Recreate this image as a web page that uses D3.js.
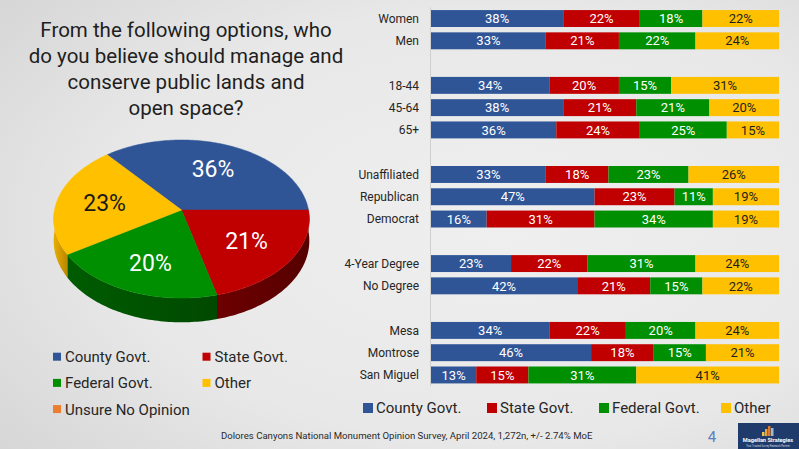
<!DOCTYPE html>
<html>
<head>
<meta charset="utf-8">
<script src="https://cdn.jsdelivr.net/npm/d3@7"></script>
<style>
  html, body { margin: 0; padding: 0; background: #e6e6e6; }
  svg { display: block; font-family: Roboto, "Noto Sans", sans-serif; }
</style>
</head>
<body>
<div id="chart"></div>
<script>
// ---------- DATA ----------
const titleLines = ["From the following options, who", "do you believe should manage and", "conserve public lands and", "open space?"];

const seriesNames = ["County Govt.", "State Govt.", "Federal Govt.", "Other"];
const legendNamesPie = ["County Govt.", "State Govt.", "Federal Govt.", "Other", "Unsure No Opinion"];

// Overall (pie)
const pieValues = [36, 21, 20, 23, 0];

// Rows (entries beginning with "_" are blank spacer rows)
const rows = ["Women", "Men", "_g1", "18-44", "45-64", "65+", "_g2", "Unaffiliated", "Republican", "Democrat", "_g3", "4-Year Degree", "No Degree", "_g4", "Mesa", "Montrose", "San Miguel"];
const categories = ["Women", "Men", "18-44", "45-64", "65+", "Unaffiliated", "Republican", "Democrat", "4-Year Degree", "No Degree", "Mesa", "Montrose", "San Miguel"];
const countyVals  = [38, 33, 34, 38, 36, 33, 47, 16, 23, 42, 34, 46, 13];
const stateVals   = [22, 21, 20, 21, 24, 18, 23, 31, 22, 21, 22, 18, 15];
const federalVals = [18, 22, 15, 21, 25, 23, 11, 34, 31, 15, 20, 15, 31];
const otherVals   = [22, 24, 31, 20, 15, 26, 19, 19, 24, 22, 24, 21, 41];

const footnote = "Dolores Canyons National Monument Opinion Survey, April 2024, 1,272n, +/- 2.74% MoE";
const pageNumber = "4";

// ---------- STYLE ----------
const colors = ["#2F5597", "#C00000", "#008F00", "#FFC000", "#ED7D31"];
const sideColors = ["#1d3560", "#620000", "#005300", "#d09a00", "#a0501c"];
const W = 799, H = 449;

const svg = d3.select("#chart").append("svg").attr("width", W).attr("height", H);
const defs = svg.append("defs");

const bg = defs.append("radialGradient").attr("id", "bg").attr("cx", "62%").attr("cy", "50%").attr("r", "80%");
bg.append("stop").attr("offset", "0%").attr("stop-color", "#efefef");
bg.append("stop").attr("offset", "60%").attr("stop-color", "#e8e8e8");
bg.append("stop").attr("offset", "100%").attr("stop-color", "#d6d6d6");
svg.append("rect").attr("width", W).attr("height", H).attr("fill", "url(#bg)");

// ---------- TITLE ----------
const title = svg.append("text").attr("text-anchor", "middle").attr("font-size", 20.5).attr("fill", "#1e1e1e");
titleLines.forEach((t, i) => {
  title.append("tspan").attr("x", 186).attr("y", 37 + i * 26.1).text(t);
});

// ---------- 3D PIE ----------
const cx = 181.5, cy = 210, R = 127, S = 78, k = 0.114, depth = 21.5;
function proj(a, f, dz) {
  const u = f * Math.sin(a), v = -f * Math.cos(a);
  const d = 1 - k * v;
  return [cx + R * u / d, cy + S * v / d + (dz || 0) / d];
}
const startA = Math.PI / 2 - 2 * Math.PI * pieValues[0] / d3.sum(pieValues);
const arcs = d3.pie().sort(null).startAngle(startA).endAngle(startA + 2 * Math.PI)(pieValues);
const line = d3.line();

function sampleArc(a0, a1, f, dz) {
  const n = Math.max(2, Math.ceil(Math.abs(a1 - a0) / 0.02));
  return d3.range(n + 1).map(i => proj(a0 + (a1 - a0) * i / n, f, dz));
}

const pieG = svg.append("g");
// walls (front half only)
arcs.forEach((a, i) => {
  if (a.endAngle - a.startAngle <= 0) return;
  [0, 2 * Math.PI, -2 * Math.PI].forEach(shift => {
    const lo = Math.max(a.startAngle, Math.PI / 2 + shift);
    const hi = Math.min(a.endAngle, 3 * Math.PI / 2 + shift);
    if (hi - lo <= 0.0001) return;
    const gid = "side" + i + "_" + (shift > 0 ? "p" : shift < 0 ? "m" : "z");
    const p0 = proj(lo, 1), p1 = proj(hi, 1);
    const g = defs.append("linearGradient").attr("id", gid).attr("gradientUnits", "userSpaceOnUse")
      .attr("x1", Math.min(p0[0], p1[0])).attr("x2", Math.max(p0[0], p1[0])).attr("y1", 0).attr("y2", 0);
    const base = d3.color(sideColors[i]);
    g.append("stop").attr("offset", "0%").attr("stop-color", base.brighter(0.3));
    g.append("stop").attr("offset", "100%").attr("stop-color", base.darker(0.35));
    const pts = sampleArc(lo, hi, 1, 0).concat(sampleArc(hi, lo, 1, depth));
    pieG.append("path").attr("d", line(pts) + "Z").attr("fill", "url(#" + gid + ")");
  });
});
// top faces
arcs.forEach((a, i) => {
  if (a.endAngle - a.startAngle <= 0) return;
  const pts = [proj(0, 0)].concat(sampleArc(a.startAngle, a.endAngle, 1, 0));
  pieG.append("path").attr("d", line(pts) + "Z").attr("fill", colors[i])
    .attr("stroke", colors[i]).attr("stroke-width", 0.5);
});
// labels
arcs.forEach((a, i) => {
  if (a.value <= 0) return;
  const mid = (a.startAngle + a.endAngle) / 2;
  const p = proj(mid, 0.62);
  pieG.append("text").attr("x", p[0]).attr("y", p[1] + (i === 2 ? 5 : 0)).attr("dy", "0.36em")
    .attr("text-anchor", "middle").attr("font-size", 23)
    .attr("fill", i === 3 ? "#1a1a1a" : "#ffffff").text(a.value + "%");
});

// ---------- PIE LEGEND ----------
const pl = svg.append("g");
legendNamesPie.forEach((name, i) => {
  const col = i % 2, row = Math.floor(i / 2);
  const x = 53 + col * 149.5, y = 356.7 + row * 26.2;
  pl.append("rect").attr("x", x).attr("y", y - 4).attr("width", 8).attr("height", 8).attr("fill", colors[i]);
  pl.append("text").attr("x", x + 12).attr("y", y).attr("dy", "0.36em").attr("font-size", 15)
    .attr("fill", "#262626").text(name);
});

// ---------- STACKED BARS ----------
const x = d3.scaleLinear().domain([0, 100]).range([431, 779]);
const y = d3.scaleBand().domain(rows).range([7.4, 386.1]).paddingInner(0.24).paddingOuter(0.12);

const tableRows = categories.map((c, i) => ({
  cat: c, "County Govt.": countyVals[i], "State Govt.": stateVals[i],
  "Federal Govt.": federalVals[i], "Other": otherVals[i]
}));
const stacked = d3.stack().keys(seriesNames)(tableRows);

// axis line
svg.append("line").attr("x1", x(0) - 0.5).attr("x2", x(0) - 0.5).attr("y1", y.range()[0]).attr("y2", y.range()[1])
  .attr("stroke", "#cfcfcf").attr("stroke-width", 1);

const barG = svg.append("g");
stacked.forEach((s, si) => {
  const g = barG.append("g");
  g.selectAll("rect").data(s).join("rect")
    .attr("x", d => x(d[0])).attr("width", d => x(d[1]) - x(d[0]))
    .attr("y", d => y(d.data.cat)).attr("height", y.bandwidth())
    .attr("fill", colors[si]);
  g.selectAll("text").data(s).join("text")
    .attr("x", d => (x(d[0]) + x(d[1])) / 2)
    .attr("y", d => y(d.data.cat) + y.bandwidth() / 2).attr("dy", "0.36em")
    .attr("text-anchor", "middle").attr("font-size", 13)
    .attr("fill", si === 3 ? "#1f1f1f" : "#ffffff")
    .text(d => (d[1] - d[0]) + "%");
});

// row labels
svg.append("g").selectAll("text").data(categories).join("text")
  .attr("x", 419).attr("y", d => y(d) + y.bandwidth() / 2).attr("dy", "0.36em")
  .attr("text-anchor", "end").attr("font-size", 12).attr("fill", "#262626").text(d => d);

// bar legend
const bl = svg.append("g");
const blX = [363, 487, 599, 721];
seriesNames.forEach((name, i) => {
  bl.append("rect").attr("x", blX[i]).attr("y", 403).attr("width", 10).attr("height", 10).attr("fill", colors[i]);
  bl.append("text").attr("x", blX[i] + 13).attr("y", 408).attr("dy", "0.36em").attr("font-size", 15)
    .attr("fill", "#262626").text(name);
});

// ---------- FOOTER ----------
svg.append("text").attr("x", 221).attr("y", 435.5).attr("dy", "0.36em").attr("font-size", 9.6)
  .attr("fill", "#2a2a2a").text(footnote);
svg.append("text").attr("x", 712).attr("y", 442).attr("text-anchor", "middle").attr("font-size", 15)
  .attr("fill", "#5b7fc2").text(pageNumber);

// logo
const logo = svg.append("g");
logo.append("rect").attr("x", 738).attr("y", 423).attr("width", 61).attr("height", 26).attr("fill", "#1f3b6b");
const logoBars = [{h: 4, c: "#f2c14e"}, {h: 7, c: "#e8a33a"}, {h: 10, c: "#de7a2b"}, {h: 8, c: "#9bbad6"}];
logoBars.forEach((b, i) => {
  logo.append("rect").attr("x", 762 + i * 3).attr("y", 436 - b.h).attr("width", 2.5).attr("height", b.h).attr("fill", b.c);
});
logo.append("text").attr("x", 768).attr("y", 441.5).attr("text-anchor", "middle").attr("font-size", 5.6)
  .attr("font-weight", "bold").attr("fill", "#ffffff").text("Magellan Strategies");
logo.append("text").attr("x", 768).attr("y", 446.5).attr("text-anchor", "middle").attr("font-size", 2.6)
  .attr("fill", "#cfd8e6").text("Your Trusted Survey Research Partner");
</script>
</body>
</html>
